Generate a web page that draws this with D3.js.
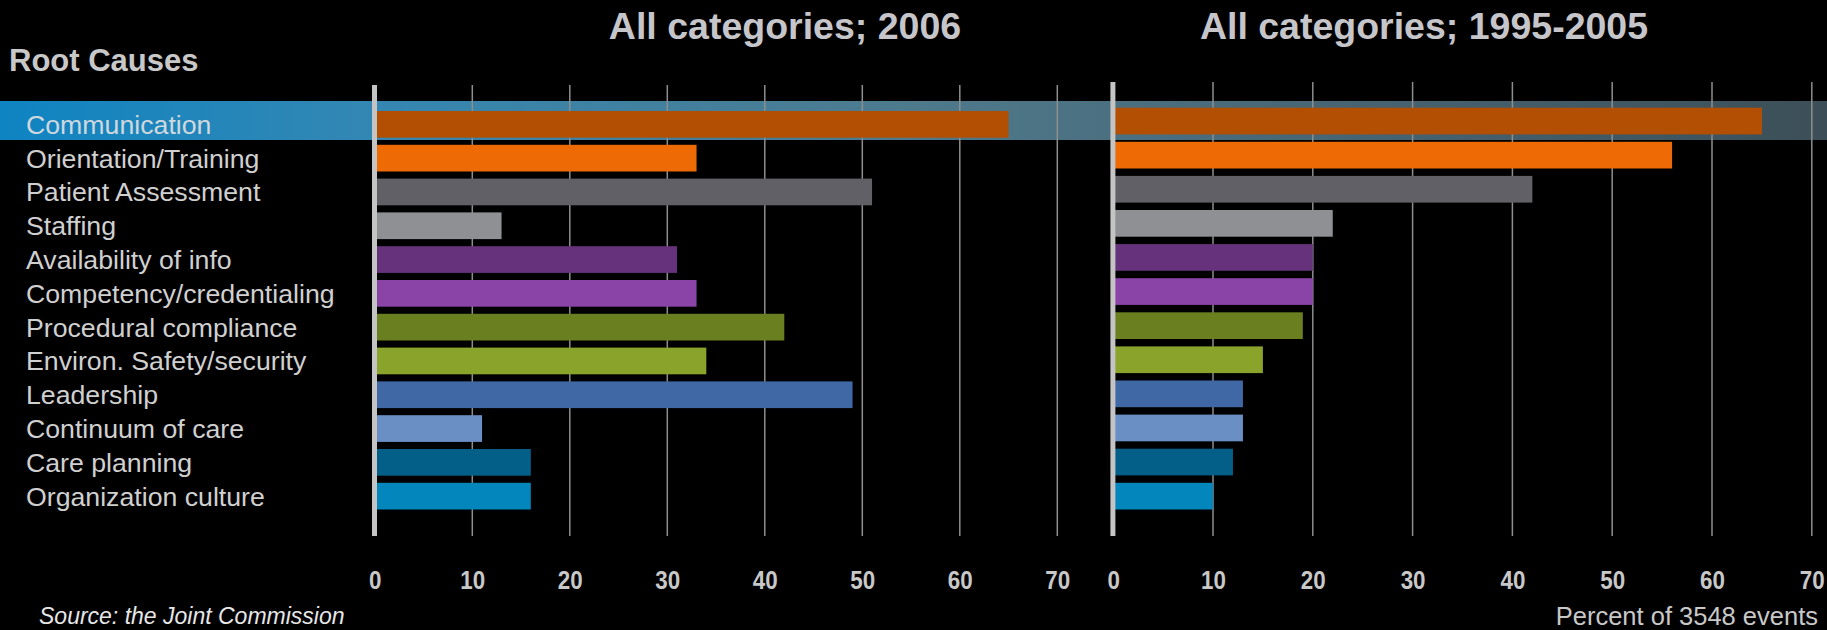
<!DOCTYPE html>
<html>
<head>
<meta charset="utf-8">
<script src="https://cdn.jsdelivr.net/npm/d3@7"></script>
<style>
  html, body { margin: 0; padding: 0; background: #000; }
  svg { display: block; }
  text { font-family: "Liberation Sans", Arial, sans-serif; }
</style>
</head>
<body>
<script>
// chart data
var categories = [
  'Communication', 'Orientation/Training', 'Patient Assessment', 'Staffing',
  'Availability of info', 'Competency/credentialing', 'Procedural compliance',
  'Environ. Safety/security', 'Leadership', 'Continuum of care',
  'Care planning', 'Organization culture'
];
var values2006 = [65, 33, 51, 13, 31, 33, 42, 34, 49, 11, 16, 16];
var values1995 = [65, 56, 42, 22, 20, 20, 19, 15, 13, 13, 12, 10];
var tickValues = [0, 10, 20, 30, 40, 50, 60, 70];
var barColors = [
  '#b34f03', '#ed6a05', '#616066', '#8f9094', '#66327c', '#8a44a8',
  '#6a7f20', '#8aa32a', '#4068a4', '#6a8fc5', '#035f88', '#0386bc'
];

var width = 1827, height = 630;

var color = d3.scaleOrdinal(categories, barColors);

var svg = d3.select('body').append('svg')
  .attr('width', width)
  .attr('height', height);

svg.append('rect').attr('width', width).attr('height', height).attr('fill', '#000');

// gradient for the highlighted first row
var grad = svg.append('defs').append('linearGradient')
  .attr('id', 'hl').attr('x1', 0).attr('x2', 1).attr('y1', 0).attr('y2', 0);
[[0, '#0e84c2'], [0.2, '#3387b3'], [0.5, '#4e7a8c'], [0.75, '#476371'], [1, '#3c4f58']]
  .forEach(function(s) { grad.append('stop').attr('offset', s[0]).attr('stop-color', s[1]); });

// two panels, each with own scales
var panels = [
  {
    title: 'All categories; 2006', titleX: 785, values: values2006,
    x: d3.scaleLinear([0, 70], [374.8, 1057.3]),
    y: d3.scaleBand(categories, [107.45, 513.05]).paddingInner(0.21).paddingOuter(0.105),
    gridTop: 85
  },
  {
    title: 'All categories; 1995-2005', titleX: 1424, values: values1995,
    x: d3.scaleLinear([0, 70], [1113.2, 1811.8]),
    y: d3.scaleBand(categories, [104.0, 513.2]).paddingInner(0.217).paddingOuter(0.1085),
    gridTop: 82
  }
];

var yLeft = panels[0].y;

// highlight band behind the "Communication" row
svg.append('rect')
  .attr('x', 0)
  .attr('y', yLeft(categories[0]) - 10)
  .attr('width', width)
  .attr('height', 39)
  .attr('fill', 'url(#hl)');

panels.forEach(function(p) {
  var g = svg.append('g');
  var gridBottom = 536;

  // vertical grid lines
  g.selectAll('line.grid')
    .data(tickValues.slice(1))
    .enter().append('line')
    .attr('class', 'grid')
    .attr('x1', function(d) { return p.x(d); })
    .attr('x2', function(d) { return p.x(d); })
    .attr('y1', p.gridTop)
    .attr('y2', gridBottom)
    .attr('stroke', '#8e8e8e')
    .attr('stroke-width', 1.5);

  // bars
  g.selectAll('rect.bar')
    .data(categories)
    .enter().append('rect')
    .attr('class', 'bar')
    .attr('x', p.x(0))
    .attr('y', function(d) { return p.y(d); })
    .attr('width', function(d, i) { return p.x(p.values[i]) - p.x(0); })
    .attr('height', p.y.bandwidth())
    .attr('fill', function(d) { return color(d); });

  // the zero axis line
  g.append('line')
    .attr('x1', p.x(0) - 0.3).attr('x2', p.x(0) - 0.3)
    .attr('y1', p.gridTop).attr('y2', gridBottom)
    .attr('stroke', '#c4c4c4')
    .attr('stroke-width', 5);

  // tick labels via d3 axis (slightly condensed like the original)
  var axis = g.append('g')
    .attr('transform', 'translate(0,589)')
    .call(d3.axisBottom(p.x).tickValues(tickValues).tickSize(0).tickPadding(0));
  axis.select('.domain').remove();
  axis.selectAll('text')
    .attr('y', 0).attr('dy', 0)
    .attr('transform', 'scale(0.86,1)')
    .attr('fill', '#c8c8c8')
    .style('font-family', '"Liberation Sans", Arial, sans-serif')
    .style('font-size', '26px')
    .style('font-weight', 'bold');

  // panel title
  svg.append('text')
    .attr('x', p.titleX).attr('y', 39)
    .attr('text-anchor', 'middle')
    .attr('fill', '#c6c6ca')
    .style('font-size', '37.5px')
    .style('font-weight', 'bold')
    .text(p.title);
});

// category labels
svg.append('g').selectAll('text')
  .data(categories)
  .enter().append('text')
  .attr('x', 26)
  .attr('y', function(d) { return yLeft(d) + yLeft.bandwidth() / 2 + 9.5; })
  .attr('fill', function(d, i) { return i === 0 ? '#cfd8de' : '#d0d0d0'; })
  .style('font-size', '26.7px')
  .text(function(d) { return d; });

svg.append('text')
  .attr('x', 9).attr('y', 71)
  .attr('fill', '#c8c8c8')
  .style('font-size', '31px')
  .style('font-weight', 'bold')
  .text('Root Causes');

svg.append('text')
  .attr('x', 39).attr('y', 624)
  .attr('fill', '#e6e6e6')
  .style('font-size', '23px')
  .style('font-style', 'italic')
  .text('Source: the Joint Commission');

svg.append('text')
  .attr('x', 1818).attr('y', 625)
  .attr('text-anchor', 'end')
  .attr('fill', '#c8c8c8')
  .style('font-size', '25.5px')
  .text('Percent of 3548 events');
</script>
</body>
</html>
